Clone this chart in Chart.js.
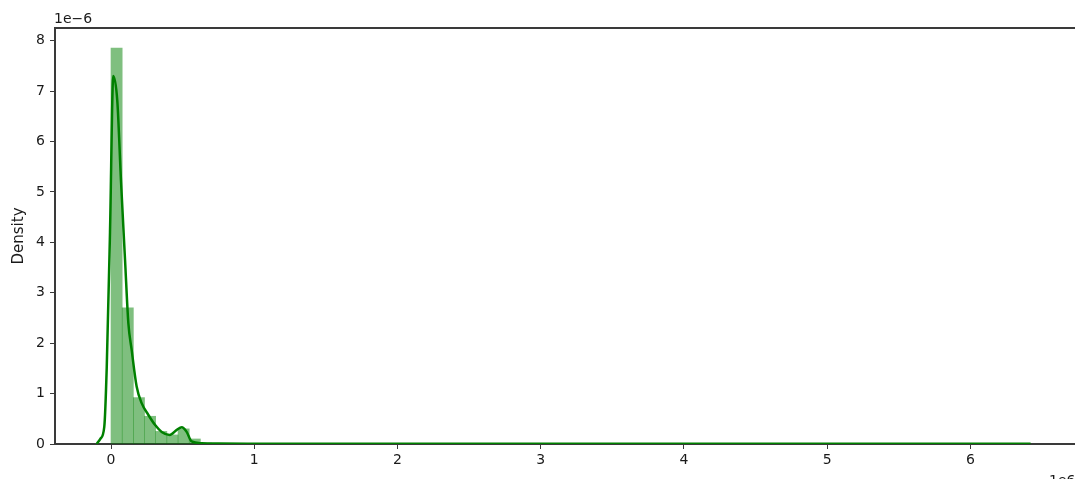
<!DOCTYPE html>
<html>
<head>
<meta charset="utf-8">
<script src="https://cdn.jsdelivr.net/npm/chart.js@4"></script>
<style>
  html, body { margin: 0; padding: 0; background: #fff; }
  canvas { display: block; }
</style>
</head>
<body>
<canvas id="myChart" width="1075" height="479"></canvas>
<script>
// histogram bins (x in units of 1e6, density in units of 1e-6)
const binWidth = 0.078
const binHeights = [7.85, 2.7, 0.92, 0.55, 0.25, 0.18, 0.3, 0.1, 0.02]

// kde curve
const kdeX = [-0.1, -0.075, -0.047, -0.03, -0.007, 0.016, 0.044, 0.07, 0.098, 0.121, 0.144, 0.179, 0.214, 0.26, 0.307, 0.354, 0.41, 0.459, 0.494, 0.528, 0.563, 0.633, 0.75, 1.0, 2.0, 3.0, 4.0, 5.0, 6.0, 6.42]
const kdeY = [0, 0.1, 0.34, 1.5, 4.2, 7.3, 6.8, 5.2, 3.65, 2.4, 1.87, 1.14, 0.81, 0.58, 0.38, 0.24, 0.18, 0.28, 0.33, 0.24, 0.05, 0.015, 0.008, 0.005, 0.003, 0.003, 0.003, 0.003, 0.003, 0.003]

const xTicks = [0, 1, 2, 3, 4, 5, 6]
const yTicks = [0, 1, 2, 3, 4, 5, 6, 7, 8]

const green = 'rgb(0, 128, 0)'
const axisColor = '#3a3a3a'
const font = { family: 'DejaVu Sans', size: 14 }

function histData() {
	let out = []
	for (let i = 0; i < binHeights.length; i++) {
		out.push({ x: binWidth / 2 + i * binWidth, y: binHeights[i] })
	}
	return out
}
function kdeData() {
	return kdeX.map((x, i) => ({ x: x, y: kdeY[i] }))
}

// top spine and the matplotlib-style offset labels
const extras = {
	id: 'extras',
	afterDraw(chart) {
		const c = chart.ctx
		const a = chart.chartArea
		c.save()
		c.strokeStyle = axisColor
		c.lineWidth = 2
		c.beginPath()
		c.moveTo(a.left, a.top)
		c.lineTo(a.right, a.top)
		c.stroke()
		c.fillStyle = '#1a1a1a'
		c.font = '14px "DejaVu Sans"'
		c.textBaseline = 'bottom'
		c.textAlign = 'left'
		c.fillText('1e\u22126', a.left - 1, a.top - 2)
		c.textBaseline = 'top'
		c.fillText('1e6', 1049, 474)
		c.restore()
	},
}

new Chart(document.getElementById('myChart').getContext('2d'), {
	type: 'bar',
	data: {
		datasets: [
			{
				type: 'line',
				data: kdeData(),
				borderColor: green,
				borderWidth: 2.5,
				pointRadius: 0,
				fill: false,
				cubicInterpolationMode: 'monotone',
				order: 0,
			},
			{
				type: 'bar',
				data: histData(),
				backgroundColor: 'rgba(0, 128, 0, 0.5)',
				borderWidth: 0,
				barPercentage: 1,
				categoryPercentage: 1,
				grouped: false,
				order: 1,
			},
		],
	},
	options: {
		responsive: false,
		animation: false,
		layout: { padding: { top: 28, right: 0, left: 0, bottom: 0 } },
		plugins: { legend: { display: false }, tooltip: { enabled: false } },
		scales: {
			x: {
				type: 'linear',
				offset: false,
				min: -0.391,
				max: 6.73,
				afterBuildTicks: (scale) => { scale.ticks = xTicks.map(v => ({ value: v })) },
				afterFit: (scale) => { scale.height = 35 },
				ticks: { font: font, color: '#1a1a1a', padding: 3, maxRotation: 0 },
				grid: { display: true, offset: false, drawOnChartArea: false, drawTicks: true, tickLength: 5, color: axisColor },
				border: { display: true, color: axisColor, width: 2 },
			},
			y: {
				min: 0,
				max: 8.25,
				afterBuildTicks: (scale) => { scale.ticks = yTicks.map(v => ({ value: v })) },
				afterFit: (scale) => { scale.width = 55 },
				ticks: { font: font, color: '#1a1a1a', padding: 5 },
				title: { display: true, text: 'Density', font: { family: 'DejaVu Sans', size: 15 }, color: '#1a1a1a', padding: { top: 10, bottom: 0 } },
				grid: { display: true, drawOnChartArea: false, drawTicks: true, tickLength: 5, color: axisColor },
				border: { display: true, color: axisColor, width: 2 },
			},
		},
	},
	plugins: [extras],
})
</script>
</body>
</html>
